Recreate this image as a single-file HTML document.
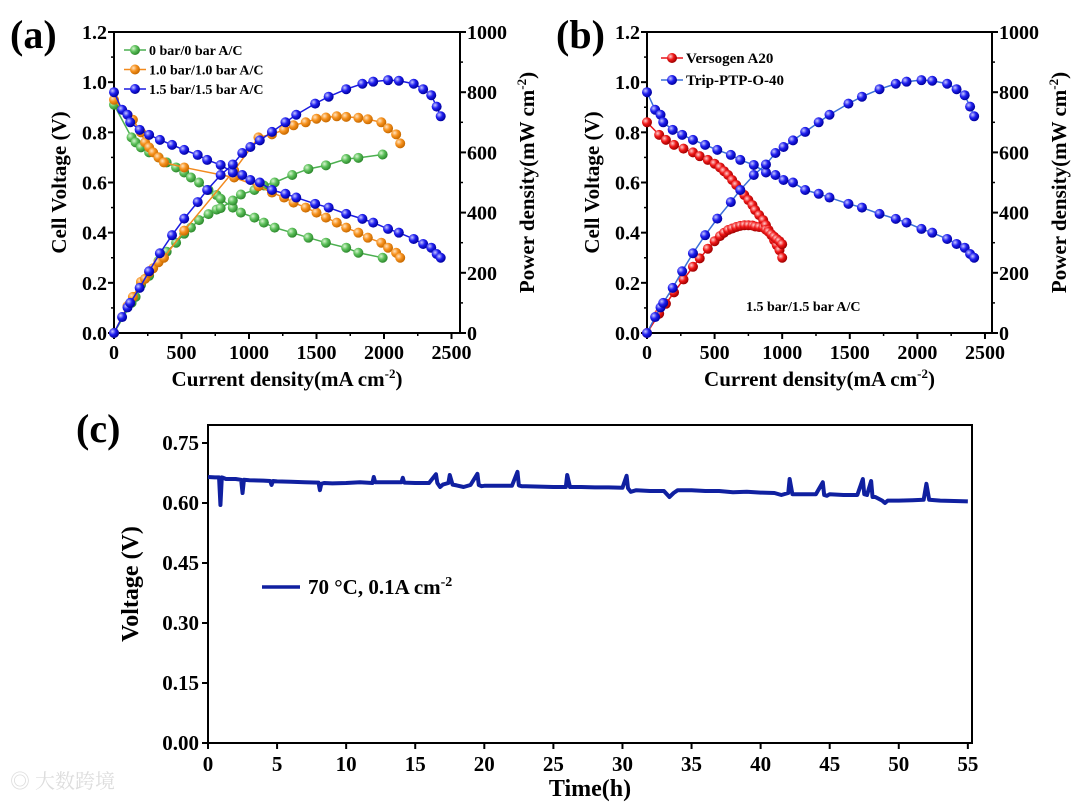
<!DOCTYPE html>
<html><head><meta charset="utf-8">
<style>
html,body{margin:0;padding:0;background:#fff;}
svg{display:block;font-family:"Liberation Serif","Noto Serif CJK SC",serif;font-weight:bold;}
</style></head>
<body>
<svg id="fig" width="1080" height="802" viewBox="0 0 1080 802" xmlns="http://www.w3.org/2000/svg">
<defs>
<radialGradient id="gG" cx="35%" cy="35%" r="65%"><stop offset="0" stop-color="#d8f5d0"/><stop offset="0.5" stop-color="#5cc05a"/><stop offset="1" stop-color="#2e8a2e"/></radialGradient>
<radialGradient id="gO" cx="35%" cy="35%" r="65%"><stop offset="0" stop-color="#ffe3c0"/><stop offset="0.5" stop-color="#f7921e"/><stop offset="1" stop-color="#c86a00"/></radialGradient>
<radialGradient id="gB" cx="35%" cy="35%" r="65%"><stop offset="0" stop-color="#c8c8ff"/><stop offset="0.5" stop-color="#2020f0"/><stop offset="1" stop-color="#0000a0"/></radialGradient>
<radialGradient id="gR" cx="35%" cy="35%" r="65%"><stop offset="0" stop-color="#ffd0d0"/><stop offset="0.5" stop-color="#f01818"/><stop offset="1" stop-color="#a00000"/></radialGradient>
</defs>
<text x="10" y="48" font-size="40">(a)</text>
<text x="556" y="48" font-size="40">(b)</text>
<text x="76" y="442" font-size="40">(c)</text>
<g id="pa"></g>
<g id="pb"></g>
<g id="pc"></g>
<text x="10" y="788" font-size="20" fill="#ddd" font-weight="normal">◎ 大数跨境</text>
</svg>
<script>
// ---- data: 0 bar ----
const g0I=[0,130,160,200,260,330,390,460,520,570,630,700,760,790,880,940,1040,1110,1190,1320,1440,1570,1720,1810,1990];
const g0V=[0.91,0.78,0.76,0.74,0.72,0.70,0.68,0.66,0.64,0.62,0.60,0.57,0.55,0.535,0.50,0.48,0.46,0.44,0.42,0.40,0.38,0.36,0.34,0.32,0.30];
const g0P=[0,100,120,160,190,240,270,300,330,350,375,395,410,415,440,460,475,490,500,525,545,557,578,582,593];
// ---- data: 1.0 bar ----
const o1I=[0,100,140,200,230,260,290,330,370,520,890,1070,1170,1260,1330,1420,1500,1570,1650,1720,1810,1880,1980,2030,2090,2120];
const o1V=[0.93,0.87,0.85,0.80,0.76,0.74,0.72,0.70,0.68,0.66,0.62,0.585,0.56,0.54,0.52,0.50,0.48,0.46,0.44,0.42,0.40,0.38,0.36,0.34,0.32,0.30];
const o1P=[0,90,120,170,180,200,215,235,250,340,540,650,660,675,690,700,712,716,720,718,715,710,700,680,660,630];
// ---- data: 1.5 bar (Trip-PTP-O-40) ----
const b15I=[0,60,100,120,190,260,340,430,520,620,690,790,880,950,1010,1080,1170,1270,1350,1490,1590,1720,1840,1920,2030,2110,2220,2290,2350,2390,2420];
const b15V=[0.96,0.89,0.87,0.84,0.81,0.79,0.77,0.75,0.73,0.71,0.69,0.67,0.64,0.63,0.61,0.60,0.57,0.555,0.54,0.515,0.50,0.475,0.455,0.44,0.415,0.40,0.375,0.355,0.34,0.315,0.30];
const b15P=[0,53,85,100,150,205,265,325,380,435,475,525,560,598,618,640,668,700,725,762,785,810,828,835,840,838,828,810,790,752,720];
// ---- data: Versogen A20 ----
const rI=[0,90,140,200,270,340,390,450,500,540,570,600,630,660,690,720,750,780,800,830,860,880,900,920,940,960,980,1000];
const rV=[0.84,0.79,0.77,0.75,0.735,0.72,0.705,0.69,0.675,0.66,0.645,0.63,0.61,0.59,0.57,0.55,0.53,0.51,0.49,0.47,0.45,0.43,0.41,0.39,0.37,0.35,0.33,0.30];
const rP=[0,64,97,135,178,220,248,280,305,322,333,342,347,352,356,358,358,357,354,352,350,343,336,328,320,312,305,295];
// ---- axis ticks ----
const xTicksAB=[0,500,1000,1500,2000,2500];
const yTicksL=[0.0,0.2,0.4,0.6,0.8,1.0,1.2];
const yTicksR=[0,200,400,600,800,1000];
// ---- data: stability test (panel c) ----
const cT=[0,0.5,0.8,0.9,1.0,1.1,1.3,2,2.4,2.5,2.6,3,4,4.5,4.6,4.7,5,6,7,8,8.1,8.2,8.4,9,10,11,11.9,12,12.1,13,14,14.1,14.2,15,16,16.5,16.6,16.8,17,17.4,17.5,17.7,18,18.5,19,19.5,19.6,19.8,20,21,22,22.4,22.5,22.7,23,24,25,25.9,26,26.2,27,28,29,30,30.3,30.4,30.6,31,32,33,33.4,33.7,34,35,36,37,38,39,40,41,41.5,42,42.1,42.3,43,44,44.5,44.6,44.8,45,46,47,47.4,47.5,47.7,48,48.1,48.3,48.8,49,49.2,50,51,51.8,52,52.2,53,54,55];
const cV=[0.665,0.664,0.664,0.595,0.664,0.663,0.660,0.660,0.658,0.625,0.658,0.657,0.656,0.655,0.645,0.655,0.654,0.653,0.652,0.651,0.632,0.648,0.650,0.649,0.650,0.652,0.650,0.665,0.652,0.652,0.652,0.663,0.651,0.650,0.650,0.672,0.650,0.640,0.646,0.650,0.670,0.646,0.644,0.640,0.645,0.673,0.645,0.642,0.643,0.643,0.643,0.678,0.644,0.642,0.642,0.641,0.640,0.640,0.670,0.640,0.640,0.639,0.639,0.638,0.668,0.637,0.628,0.632,0.630,0.630,0.615,0.625,0.632,0.632,0.630,0.630,0.627,0.628,0.626,0.625,0.620,0.625,0.660,0.622,0.622,0.622,0.652,0.620,0.618,0.622,0.620,0.620,0.660,0.622,0.620,0.655,0.615,0.615,0.606,0.600,0.606,0.606,0.607,0.608,0.648,0.608,0.606,0.605,0.604];
const cXTicks=[0,5,10,15,20,25,30,35,40,45,50,55];
const cYTicks=[0.00,0.15,0.30,0.45,0.60,0.75];

const NS="http://www.w3.org/2000/svg";
function el(parent,tag,attrs,text){const e=document.createElementNS(NS,tag);for(const k in attrs)e.setAttribute(k,attrs[k]);if(text!==undefined)e.textContent=text;parent.appendChild(e);return e;}

function dualPanel(g,L,R,T,B,xMax,series,yLabel,legendCfg){
  const sx=v=>L+(v/xMax)*(R-L);
  const sy=v=>B-(v/1.2)*(B-T);
  const sp=v=>B-(v/1000)*(B-T);
  const frame=el(g,'rect',{x:L,y:T,width:R-L,height:B-T,fill:'none',stroke:'#000','stroke-width':2});
  
  
  xTicksAB.forEach(v=>{
    const t=el(g,'line',{x1:sx(v),x2:sx(v),y1:B,y2:B+6,stroke:'#000','stroke-width':2});
    
    if(v<2500)el(g,'line',{x1:sx(v+250),x2:sx(v+250),y1:B,y2:B+3,stroke:'#000','stroke-width':1.5});
    const tx=el(g,'text',{x:sx(v),y:B+26,'font-size':20,'text-anchor':'middle'},String(v));
    
  });
  yTicksL.forEach(v=>{
    el(g,'line',{x1:L-6,x2:L,y1:sy(v),y2:sy(v),stroke:'#000','stroke-width':2});
    if(v<1.2)el(g,'line',{x1:L-3,x2:L,y1:sy(v+0.1),y2:sy(v+0.1),stroke:'#000','stroke-width':1.5});
    const tx=el(g,'text',{x:L-7,y:sy(v)+7,'font-size':20,'text-anchor':'end'},v.toFixed(1));
    
  });
  yTicksR.forEach(v=>{
    el(g,'line',{x1:R,x2:R+6,y1:sp(v),y2:sp(v),stroke:'#000','stroke-width':2});
    if(v<1000)el(g,'line',{x1:R,x2:R+3,y1:sp(v+100),y2:sp(v+100),stroke:'#000','stroke-width':1.5});
    const tx=el(g,'text',{x:R+7,y:sp(v)+7,'font-size':20},String(v));
    
  });
  const xt=el(g,'text',{x:(L+R)/2,y:B+53,'font-size':21,'text-anchor':'middle'});
  xt.innerHTML='Current density(mA cm<tspan dy="-8" font-size="13">-2</tspan><tspan dy="8">)</tspan>';
  
  const yt=el(g,'text',{transform:`translate(${L-48},${(T+B)/2}) rotate(-90)`,'font-size':21,'text-anchor':'middle'},yLabel);
  
  const rt=el(g,'text',{transform:`translate(${R+74},${(T+B)/2}) rotate(-90)`,'font-size':21,'text-anchor':'middle'});
  rt.innerHTML='Power density(mW cm<tspan dy="-8" font-size="13">-2</tspan><tspan dy="8">)</tspan>';
  
  series.forEach(s=>{
    const sg=el(g,'g',{});
    
    const vpts=s.I.map((x,i)=>sx(x)+','+sy(s.V[i])).join(' ');
    const ppts=s.I.map((x,i)=>sx(x)+','+sp(s.P[i])).join(' ');
    el(sg,'polyline',{points:vpts,fill:'none',stroke:s.line,'stroke-width':1.5});
    el(sg,'polyline',{points:ppts,fill:'none',stroke:s.line,'stroke-width':1.5});
    s.I.forEach((x,i)=>{
      const c=el(sg,'circle',{cx:sx(x),cy:sy(s.V[i]),r:5,fill:s.grad});
      
      const c2=el(sg,'circle',{cx:sx(x),cy:sp(s.P[i]),r:5,fill:s.grad});
      
    });
  });
  legendCfg.items.forEach((it,k)=>{
    const y=legendCfg.y+k*legendCfg.dy;
    const lg=el(g,'g',{});
    
    el(lg,'line',{x1:legendCfg.x,x2:legendCfg.x+22,y1:y,y2:y,stroke:it.line,'stroke-width':1.5});
    el(lg,'circle',{cx:legendCfg.x+11,cy:y,r:5,fill:it.grad});
    el(lg,'text',{x:legendCfg.x+25,y:y+5,'font-size':legendCfg.fs},it.label);
  });
}

const sA=[
 {name:'series-0-bar',I:g0I,V:g0V,P:g0P,line:'#4caf50',grad:'url(#gG)'},
 {name:'series-1-bar',I:o1I,V:o1V,P:o1P,line:'#f28a1e',grad:'url(#gO)'},
 {name:'series-1-5-bar',I:b15I,V:b15V,P:b15P,line:'#1a1ae0',grad:'url(#gB)'}];
dualPanel(document.getElementById('pa'),114,460,32,333,2563,sA,'Cell Voltage (V)',
 {x:124,y:50,dy:19.5,fs:14,items:[
  {label:'0 bar/0 bar A/C',line:'#4caf50',grad:'url(#gG)'},
  {label:'1.0 bar/1.0 bar A/C',line:'#f28a1e',grad:'url(#gO)'},
  {label:'1.5 bar/1.5 bar A/C',line:'#1a1ae0',grad:'url(#gB)'}]});
const sB=[
 {name:'series-versogen-a20',I:rI,V:rV,P:rP,line:'#e8141a',grad:'url(#gR)'},
 {name:'series-trip-ptp-o-40',I:b15I,V:b15V,P:b15P,line:'#3a6fd8',grad:'url(#gB)'}];
dualPanel(document.getElementById('pb'),647,992,32,333,2552,sB,'Cell Voltage (V)',
 {x:661,y:58,dy:22,fs:15,items:[
  {label:'Versogen A20',line:'#e8141a',grad:'url(#gR)'},
  {label:'Trip-PTP-O-40',line:'#3a6fd8',grad:'url(#gB)'}]});
(function(){const t=el(document.getElementById('pb'),'text',{x:746,y:311,'font-size':14},'1.5 bar/1.5 bar A/C');
})();

// ---- panel c ----
(function(){
  const g=document.getElementById('pc');
  const L=208,R=972,T=425,B=743,xMax=55.3,yMax=0.795;
  const sx=v=>L+(v/xMax)*(R-L);
  const sy=v=>B-(v/yMax)*(B-T);
  const fr=el(g,'rect',{x:L,y:T,width:R-L,height:B-T,fill:'none',stroke:'#000','stroke-width':2});
  
  cXTicks.forEach(v=>{
    el(g,'line',{x1:sx(v),x2:sx(v),y1:B,y2:B+6,stroke:'#000','stroke-width':2});
    const t=el(g,'text',{x:sx(v),y:B+28,'font-size':21,'text-anchor':'middle'},String(v));
    
  });
  cYTicks.forEach(v=>{
    el(g,'line',{x1:L-6,x2:L,y1:sy(v),y2:sy(v),stroke:'#000','stroke-width':2});
    const t=el(g,'text',{x:L-9,y:sy(v)+7,'font-size':21,'text-anchor':'end'},v.toFixed(2));
    
  });
  const xt=el(g,'text',{x:(L+R)/2,y:796,'font-size':24,'text-anchor':'middle'},'Time(h)');
  
  const yt=el(g,'text',{transform:`translate(138,${(T+B)/2}) rotate(-90)`,'font-size':24,'text-anchor':'middle'},'Voltage (V)');
  
  const pl=el(g,'polyline',{points:cT.map((t,i)=>sx(t)+','+sy(cV[i])).join(' '),fill:'none',stroke:'#1020a0','stroke-width':4,'stroke-linejoin':'round'});
  
  const lg=el(g,'g',{});
  
  el(lg,'line',{x1:262,x2:300,y1:587,y2:587,stroke:'#1020a0','stroke-width':3.5});
  const lt=el(lg,'text',{x:308,y:594,'font-size':21});
  lt.innerHTML='70 °C, 0.1A cm<tspan dy="-8" font-size="14">-2</tspan>';
})();
</script>
</body></html>
